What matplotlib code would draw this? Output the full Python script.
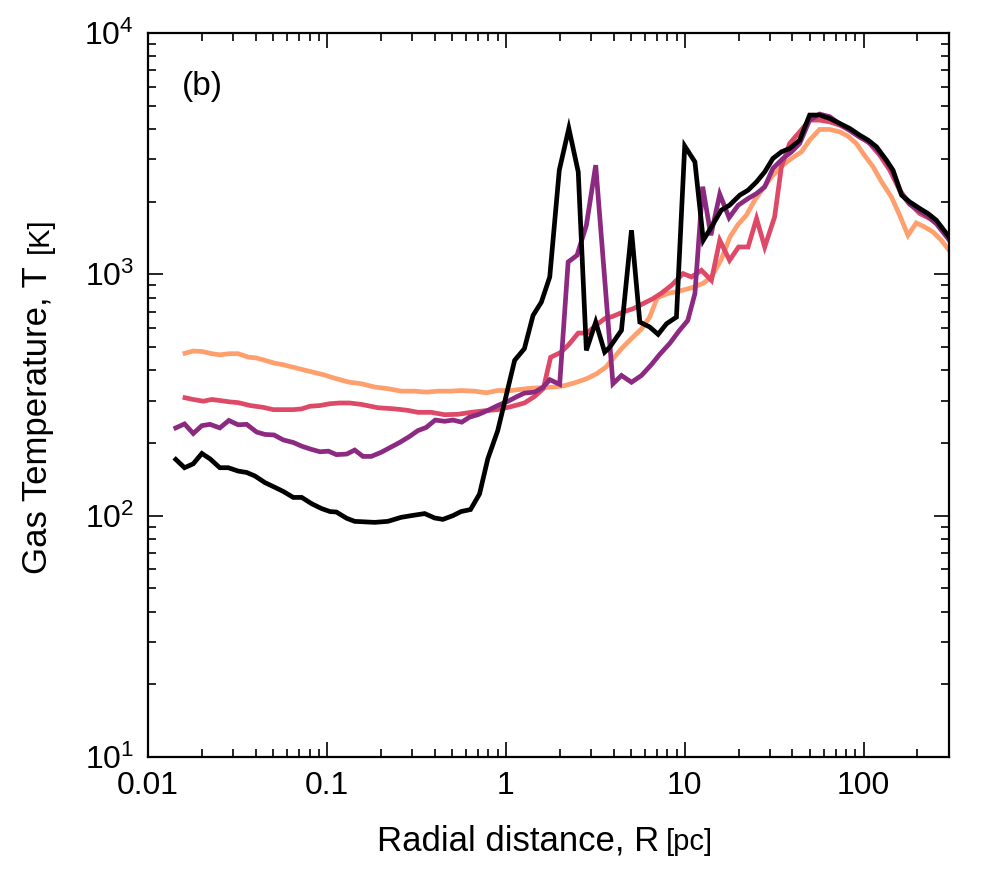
import matplotlib
matplotlib.use('Agg')
import matplotlib.pyplot as plt
from matplotlib.ticker import FixedLocator, FixedFormatter, LogLocator, NullFormatter

plt.rcParams['font.family'] = ['Liberation Sans', 'DejaVu Sans']
plt.rcParams['mathtext.fontset'] = 'custom'
plt.rcParams['mathtext.rm'] = 'Liberation Sans'
plt.rcParams['mathtext.it'] = 'Liberation Sans:italic'

# black series
r_black = [0.0143, 0.0160, 0.0179, 0.0200, 0.0222, 0.0252, 0.0281, 0.0319, 0.0356, 0.0396,
           0.0451, 0.0512, 0.0570, 0.0649, 0.0723, 0.0823, 0.0933, 0.104, 0.113, 0.129,
           0.143, 0.185, 0.219, 0.260, 0.296, 0.352, 0.400, 0.445, 0.506, 0.562,
           0.635, 0.713, 0.793, 0.901, 1.00, 1.12, 1.27, 1.42, 1.58, 1.76,
           1.99, 2.25, 2.54, 2.82, 3.18, 3.57, 3.81, 4.43, 5.04, 5.61,
           6.37, 7.10, 7.91, 8.99, 10.0, 11.4, 12.7, 14.1, 16.0, 17.8,
           20.3, 22.6, 25.2, 28.0, 31.1, 34.7, 38.6, 43.9, 49.9, 56.7,
           64.6, 73.5, 83.5, 95.0, 106, 118, 134, 146, 163, 181,
           206, 229, 255, 300]
t_black = [171, 158, 164, 181, 172, 158, 158, 153, 151, 146,
           137, 131, 126, 119, 119, 112, 107, 104, 103.5, 97.5,
           94.7, 93.8, 94.7, 98.4, 100, 102, 97.8, 96.5, 100, 104,
           106, 123, 172, 225, 310, 440, 492, 676, 767, 975,
           2700, 4025, 2657, 484, 634, 476, 499, 586, 1523, 634,
           605, 564, 624, 665, 3400, 2924, 1384, 1572, 1844, 1933,
           2128, 2232, 2416, 2657, 3020, 3217, 3323, 3597, 4570, 4570,
           4426, 4220, 4025, 3774, 3597, 3376, 2972, 2700, 2128, 1995,
           1874, 1786, 1675, 1429]

# purple series
r_purple = [0.0143, 0.0160, 0.0179, 0.0200, 0.0222, 0.0252, 0.0283, 0.0319, 0.0356, 0.0405,
            0.0451, 0.0506, 0.0570, 0.0649, 0.0723, 0.0804, 0.0914, 0.102, 0.113, 0.129,
            0.143, 0.159, 0.177, 0.201, 0.224, 0.255, 0.290, 0.322, 0.359, 0.403,
            0.455, 0.506, 0.567, 0.627, 0.698, 0.793, 0.901, 1.03, 1.14, 1.27,
            1.45, 1.62, 1.76, 2.00, 2.23, 2.50, 2.82, 3.18, 3.97, 4.43,
            5.04, 5.73, 6.52, 7.25, 8.24, 9.25, 10.4, 11.4, 12.6, 14.0,
            15.7, 17.7, 19.9, 22.6, 25.2, 28.0, 31.1, 35.4, 39.5, 43.9,
            49.9, 56.7, 64.6, 73.5, 83.5, 95.0, 106, 118, 134, 146,
            163, 181, 206, 229, 255, 300]
t_purple = [231, 240, 219, 236, 239, 231, 248, 238, 239, 222,
            217, 216, 206, 201, 194, 189, 184, 185, 179, 180,
            187, 176, 176, 183, 191, 201, 213, 225, 232, 249,
            246, 249, 244, 256, 262, 273, 286, 298, 310, 322,
            325, 341, 366, 350, 1125, 1199, 1597, 2833, 352, 381,
            357, 381, 423, 466, 517, 580, 644, 832, 2307, 1452,
            2148, 1716, 1933, 2061, 2161, 2303, 2746, 3020, 3217, 3486,
            4355, 4613, 4500, 4200, 3950, 3700, 3550, 3300, 2950, 2650,
            2150, 1950, 1830, 1740, 1620, 1390]

# red series
r_red = [0.0161, 0.0179, 0.0204, 0.0227, 0.0252, 0.0287, 0.0319, 0.0372, 0.0441, 0.0501,
         0.0570, 0.0649, 0.0723, 0.0804, 0.0914, 0.104, 0.118, 0.134, 0.156, 0.193,
         0.239, 0.284, 0.322, 0.383, 0.455, 0.540, 0.640, 0.760, 0.901, 1.07,
         1.27, 1.45, 1.62, 1.78, 2.03, 2.25, 2.54, 2.85, 3.18, 3.57,
         3.97, 4.52, 5.14, 5.85, 6.65, 7.41, 8.43, 9.78, 10.9, 12.4,
         14.1, 15.7, 17.8, 20.0, 22.6, 25.2, 28.0, 31.8, 34.7, 38.6,
         43.9, 49.9, 56.7, 64.6, 73.5, 83.5, 95.0, 108, 123, 140,
         159, 181, 206, 234, 266, 300]
t_red = [308, 303, 298, 303, 300, 296, 294, 286, 281, 275,
         275, 275, 277, 284, 286, 291, 293, 293, 289, 280,
         277, 273, 268, 268, 262, 263, 268, 272, 275, 283,
         293, 312, 336, 453, 475, 512, 571, 571, 614, 655,
         670, 698, 720, 756, 793, 836, 900, 1007, 975, 1039,
         944, 1384, 1143, 1298, 1298, 1703, 1298, 1729, 2787, 3486,
         3894, 4355, 4355, 4285, 4150, 3960, 3739, 3486, 3117, 2700,
         2232, 1965, 1786, 1703, 1597, 1429]

# orange series
r_orange = [0.0161, 0.0179, 0.0200, 0.0227, 0.0252, 0.0287, 0.0319, 0.0363, 0.0405, 0.0451,
            0.0512, 0.0570, 0.0649, 0.0738, 0.0837, 0.0953, 0.108, 0.123, 0.134, 0.156,
            0.185, 0.219, 0.260, 0.309, 0.359, 0.417, 0.494, 0.562, 0.668, 0.777,
            0.901, 1.07, 1.31, 1.55, 1.84, 2.14, 2.48, 2.82, 3.21, 3.62,
            3.97, 4.43, 5.04, 5.73, 6.37, 7.02, 7.98, 9.38, 10.9, 12.7,
            14.1, 16.0, 17.9, 19.9, 22.1, 24.6, 27.4, 31.1, 35.4, 39.5,
            44.9, 49.9, 56.7, 64.6, 73.5, 81.7, 91.0, 101, 113, 126,
            143, 159, 177, 197, 219, 244, 272, 300]
t_orange = [471, 481, 479, 469, 464, 469, 469, 454, 450, 440,
            428, 422, 412, 402, 393, 384, 373, 363, 357, 352,
            341, 336, 328, 328, 325, 328, 328, 330, 328, 323,
            330, 330, 336, 339, 341, 346, 357, 369, 387, 412,
            447, 492, 542, 594, 665, 799, 832, 853, 879, 918,
            975, 1153, 1429, 1612, 1757, 2028, 2269, 2575, 2833, 3020,
            3217, 3597, 3985, 3985, 3894, 3739, 3486, 3117, 2787, 2416,
            2092, 1757, 1452, 1633, 1572, 1498, 1384, 1259]

x_ticks = [0.01, 0.1, 1, 10, 100]
x_labels = ['0.01', '0.1', '1', '10', '100']
y_ticks = [10, 100, 1000, 10000]
y_labels = [r'$\mathregular{10^{1}}$', r'$\mathregular{10^{2}}$',
            r'$\mathregular{10^{3}}$', r'$\mathregular{10^{4}}$']

fig = plt.figure(figsize=(9.96, 8.73), dpi=100)
ax = fig.add_axes([0.1486, 0.1329, 0.8042, 0.8293])

lw = 3.4
ax.plot(r_orange, t_orange, color='#fe9f6d', lw=lw, solid_joinstyle='miter')
ax.plot(r_red, t_red, color='#de4968', lw=lw, solid_joinstyle='miter')
ax.plot(r_purple, t_purple, color='#8c2981', lw=lw, solid_joinstyle='miter')
ax.plot(r_black, t_black, color='black', lw=lw, solid_joinstyle='miter')

ax.set_xscale('log')
ax.set_yscale('log')
ax.set_xlim(0.01, 300)
ax.set_ylim(10, 10000)

ax.xaxis.set_major_locator(FixedLocator(x_ticks))
ax.xaxis.set_major_formatter(FixedFormatter(x_labels))
ax.xaxis.set_minor_locator(LogLocator(base=10, subs=range(2, 10), numticks=20))
ax.xaxis.set_minor_formatter(NullFormatter())
ax.yaxis.set_major_locator(FixedLocator(y_ticks))
ax.yaxis.set_major_formatter(FixedFormatter(y_labels))
ax.yaxis.set_minor_locator(LogLocator(base=10, subs=range(2, 10), numticks=20))
ax.yaxis.set_minor_formatter(NullFormatter())

ax.tick_params(which='both', direction='in', top=True, right=True, width=1.2)
ax.tick_params(which='major', length=11, labelsize=23, pad=10)
ax.tick_params(which='minor', length=5.5)
for s in ax.spines.values():
    s.set_linewidth(1.6)

ax.text(0.042, 0.915, '(b)', transform=ax.transAxes, fontsize=24)

# axis labels with smaller units
fig.text(0.662, 0.026, 'Radial distance, R', fontsize=25, ha='right', va='baseline')
fig.text(0.669, 0.026, '[pc]', fontsize=21, ha='left', va='baseline')
fig.text(0.038, 0.343, 'Gas Temperature, T', fontsize=25, rotation=90,
         ha='center', va='bottom')
fig.text(0.040, 0.710, '[K]', fontsize=21, rotation=90, ha='center', va='bottom')

fig.savefig('out.png', dpi=100)
